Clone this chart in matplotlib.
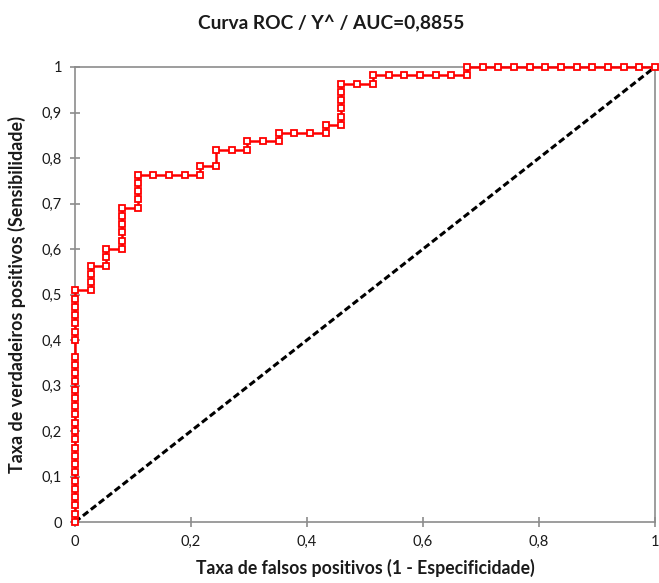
import matplotlib
matplotlib.use("Agg")
import matplotlib.pyplot as plt
import numpy as np

# ---- data (counts of negatives / positives) ----
n_neg = 37
n_pos = 55
fp_counts = [0, 0, 0, 0, 0, 0, 0, 0, 0, 0, 0, 0, 0, 0, 0, 0, 0, 0, 0, 0, 0,
             0, 0, 0, 0, 0, 0, 0,
             1, 1, 1, 1,
             2, 2, 2,
             3, 3, 3, 3, 3, 3,
             4, 4, 4, 4, 4,
             5, 6, 7, 8, 8,
             9, 9,
             10, 11, 11,
             12, 13, 13,
             14, 15, 16, 16,
             17, 17, 17, 17, 17, 17,
             18, 19, 19,
             20, 21, 22, 23, 24, 25, 25,
             26, 27, 28, 29, 30, 31, 32, 33, 34, 35, 36, 37]
tp_counts = [0, 1, 2, 3, 4, 5, 6, 7, 8, 9, 10, 11, 12, 13, 14, 15, 16, 17, 18, 19, 20,
             22, 23, 24, 25, 26, 27, 28,
             28, 29, 30, 31,
             31, 32, 33,
             33, 34, 35, 36, 37, 38,
             38, 39, 40, 41, 42,
             42, 42, 42, 42, 43,
             43, 45,
             45, 45, 46,
             46, 46, 47,
             47, 47, 47, 48,
             48, 49, 50, 51, 52, 53,
             53, 53, 54,
             54, 54, 54, 54, 54, 54, 55,
             55, 55, 55, 55, 55, 55, 55, 55, 55, 55, 55, 55]
diag = [0, 1]
x_ticks = [0, 0.2, 0.4, 0.6, 0.8, 1]
x_tick_labels = ["0", "0,2", "0,4", "0,6", "0,8", "1"]
y_ticks = [0, 0.1, 0.2, 0.3, 0.4, 0.5, 0.6, 0.7, 0.8, 0.9, 1]
y_tick_labels = ["0", "0,1", "0,2", "0,3", "0,4", "0,5", "0,6", "0,7", "0,8", "0,9", "1"]
title = "Curva ROC / Y^ / AUC=0,8855"
xlabel = "Taxa de falsos positivos (1 - Especificidade)"
ylabel = "Taxa de verdadeiros positivos (Sensibilidade)"

fpr = np.array(fp_counts) / n_neg
tpr = np.array(tp_counts) / n_pos

plt.rcParams['font.family'] = ['Lato', 'DejaVu Sans']

fig = plt.figure(figsize=(6.59, 5.83), dpi=100)
ax = fig.add_axes([75/659, 1-522/583, 580/659, 455/583])

ax.plot(diag, diag, color='black', lw=2.2, ls=(0, (2.2, 1.1)), zorder=2, clip_on=False)
ax.plot(fpr, tpr, color='#ff0000', lw=1.8, marker='s', markersize=5.0,
        markerfacecolor='white', markeredgecolor='#ff0000', markeredgewidth=1.3,
        zorder=3, clip_on=False)

ax.set_xlim(0, 1)
ax.set_ylim(0, 1)
ax.set_xticks(x_ticks)
ax.set_xticklabels(x_tick_labels)
ax.set_yticks(y_ticks)
ax.set_yticklabels(y_tick_labels)
for s in ax.spines.values():
    s.set_color('#8c8c8c')
    s.set_linewidth(1.2)
ax.tick_params(direction='inout', length=7, width=1.2, color='#8c8c8c',
               labelsize=10.5, labelcolor='#1a1a1a', pad=6)

ax.set_xlabel(xlabel, fontsize=12.7, fontweight='bold', color='#1a1a1a', labelpad=7)
ax.set_ylabel(ylabel, fontsize=12.9, fontweight='bold', color='#1a1a1a', labelpad=11)
fig.text(331/659, 1-24/583, title, ha='center', va='center', fontsize=13.8,
         fontweight='bold', color='#1a1a1a')

fig.savefig("out.png", dpi=100, facecolor='white')
